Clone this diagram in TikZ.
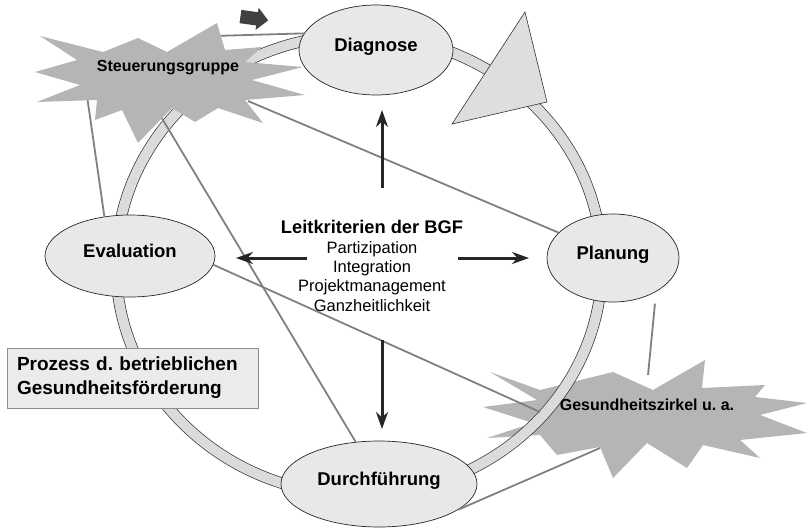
\documentclass[tikz,border=0pt]{standalone}
\usepackage{fontspec}
\setmainfont{Liberation Sans}
\usetikzlibrary{arrows.meta,shapes.geometric,shapes.arrows}
\frenchspacing

\begin{document}
\begin{tikzpicture}[
  x=1pt, y=-1pt,
  >={Stealth[length=17pt, width=12pt]},
  every node/.style={align=center},
  phase/.style={ellipse, draw=black!85, fill=black!9, line width=0.7pt, inner sep=0pt,
                text height=13pt, text depth=10pt, font=\fontsize{18.5}{22}\selectfont\bfseries},
  ring/.style={draw=black!80, line width=0.7pt, double=black!14, double distance=10pt},
  burst/.style={fill=black!29},
  link/.style={draw=black!50, line width=1.8pt},
  bigarrow/.style={->, line width=3pt, black!85},
  burstlabel/.style={font=\fontsize{16}{19}\selectfont\bfseries},
]
  \useasboundingbox (0,0) rectangle (808,528);

  % star behind the ring
  \fill[burst] plot coordinates {(490,372) (540,390) (613,372) (653,390) (705,360) (702,388)
      (765,385) (755,397) (807,403) (760,415) (807,433) (740,440) (760,458) (703,445)
      (687,468) (647,443) (613,478) (600,447) (557,455) (540,435) (487,438) (533,423)
      (483,407) (537,400)} -- cycle;

  \draw[ring] (359,265) ellipse [x radius=243pt, y radius=230pt];
  \draw[fill=black!13, draw=black!80, line width=0.6pt] (525,12) -- (547,102) -- (452,124) -- cycle;

  \node[phase, minimum width=154pt, minimum height=90pt]  (diag)  at (376,50)  {Diagnose};
  \node[phase, minimum width=132pt, minimum height=88pt]  (plan)  at (613,258) {Planung};
  \node[phase, minimum width=196pt, minimum height=86pt]  (durch) at (379,484) {Durchführung};
  \node[phase, minimum width=170pt, minimum height=82pt]  (eval)  at (130,256) {Evaluation};

  \coordinate (steuTop)    at (213,36);
  \coordinate (steuRight)  at (248,101);
  \coordinate (steuLeft)   at (87,96);
  \coordinate (steuBottom) at (157,110);
  \coordinate (gzLeft)     at (540,412);
  \coordinate (gzTop)      at (648,375);
  \coordinate (gzBottom)   at (600,448);

  \draw[link] (steuTop) -- (diag.167);
  \draw[link] (steuRight) -- (plan.155);
  \draw[link] (steuLeft) -- (eval.123);
  \draw[link] (steuBottom) -- (durch.119);
  \draw[link] (eval.-6) -- (gzLeft);
  \draw[link, shorten <=12pt] (plan.-38) -- (gzTop);
  \draw[link] (gzBottom) -- (durch.-18);

  % star in front of the ring
  \fill[burst] plot coordinates {(35,72) (77,60) (40,36) (103,52) (138,38) (167,52) (217,23)
      (225,50) (262,47) (245,62) (303,67) (252,80) (305,95) (245,100) (263,123) (218,108)
      (195,122) (172,108) (138,143) (122,110) (95,120) (97,100) (37,102) (80,85)} -- cycle;

  \node[burstlabel] (steu) at (168,68)  {Steuerungsgruppe};
  \node[burstlabel] (gz)   at (647,405) {Gesundheitszirkel u.\ a.};

  \node[single arrow, fill=black!75, minimum height=28pt, inner xsep=0pt, inner ysep=6.5pt,
        single arrow head extend=4.5pt, rotate=-8] (hint) at (251,18) {};

  \node[font=\fontsize{16.5}{19.4}\selectfont] (crit) at (372,266)
       {{\fontsize{18.3}{19.4}\selectfont\bfseries Leitkriterien der BGF}\\Partizipation\\Integration\\Projektmanagement\\Ganzheitlichkeit};

  \coordinate (upS)    at (382,188);  \coordinate (upE)    at (382,110);
  \coordinate (downS)  at (382,340);  \coordinate (downE)  at (382,429);
  \coordinate (leftS)  at (307,258);  \coordinate (leftE)  at (236,258);
  \coordinate (rightS) at (458,258);  \coordinate (rightE) at (529,258);
  \draw[bigarrow] (upS) -- (upE);
  \draw[bigarrow] (downS) -- (downE);
  \draw[bigarrow] (leftS) -- (leftE);
  \draw[bigarrow] (rightS) -- (rightE);

  \node[draw=black!45, fill=black!8, line width=0.8pt, minimum width=251pt, minimum height=60pt,
        text width=231pt, align=left, font=\fontsize{19}{24}\selectfont\bfseries] (title) at (132.5,378)
       {Prozess d. betrieblichen\\Gesundheitsförderung};
\end{tikzpicture}
\end{document}
